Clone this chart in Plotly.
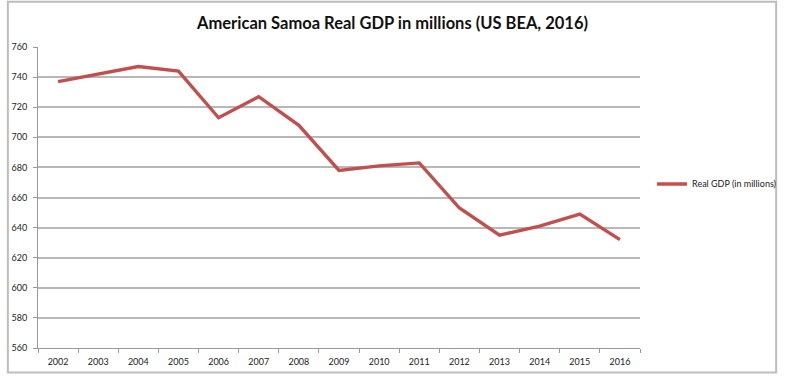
import plotly.graph_objects as go

years = ["2002", "2003", "2004", "2005", "2006", "2007", "2008", "2009",
         "2010", "2011", "2012", "2013", "2014", "2015", "2016"]
real_gdp = [737, 742, 747, 744, 713, 727, 708, 678, 681, 683, 653, 635, 641, 649, 632]
series_name = "Real GDP (in millions)"
title_text = "American Samoa Real GDP in millions (US BEA, 2016)"

fig = go.Figure()
fig.add_trace(go.Scatter(
    x=years, y=real_gdp, mode="lines", name=series_name,
    line=dict(color="#c0504d", width=3.4),
))

fig.update_layout(
    width=793, height=379,
    margin=dict(l=32, r=142, t=47, b=26),
    paper_bgcolor="white", plot_bgcolor="white",
    title=dict(text=title_text, x=0.495, xanchor="center", y=0.94, yanchor="middle",
               font=dict(family="Lato", size=16.5, color="#111", weight="bold")),
    showlegend=True,
    legend=dict(x=1.02, y=0.545, xanchor="left", yanchor="middle",
                font=dict(family="Lato", size=9, color="#222"),
                bgcolor="rgba(0,0,0,0)", itemwidth=30),
    xaxis=dict(type="category", range=[-0.5, 14.5], tickson="boundaries",
               ticks="outside", ticklen=4, tickcolor="#999",
               showline=True, linecolor="#999", linewidth=1, ticklabelstandoff=5,
               showgrid=False, tickfont=dict(family="Lato", size=9, color="#222")),
    yaxis=dict(range=[560, 760], dtick=20, ticks="outside", ticklen=4, tickcolor="#999",
               showline=True, linecolor="#999", linewidth=1, ticklabelstandoff=4,
               showgrid=True, gridcolor="#b8b8b8", gridwidth=1.5,
               zeroline=False, tickfont=dict(family="Lato", size=9, color="#222")),
    shapes=[dict(type="rect", xref="paper", yref="paper",
                 x0=-31/619, x1=1 + 140/619, y0=-25/306, y1=1 + 46/306,
                 line=dict(color="#bdbdbd", width=2), fillcolor="rgba(0,0,0,0)",
                 layer="below")],
)

fig.write_html("out.html", config={"displayModeBar": False},
               post_script="document.body.style.margin='0';document.body.style.overflow='hidden';")
